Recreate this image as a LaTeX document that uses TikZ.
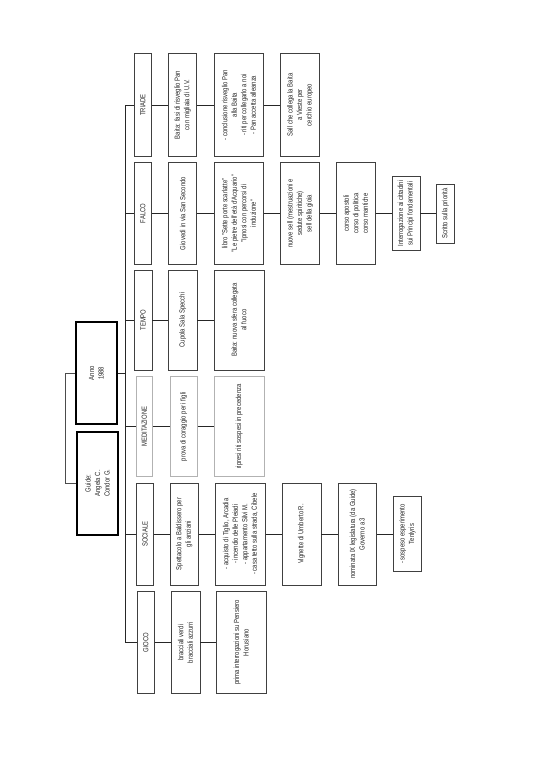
\documentclass[tikz,border=0pt]{standalone}
\usepackage{fontspec}
\setmainfont[FakeStretch=0.8]{Liberation Sans}
\begin{document}
\begin{tikzpicture}[x=1pt,y=-1pt,
  box/.style={draw=black!75, line width=0.7pt, rotate=90, align=center, inner sep=1pt,
    font=\fontsize{7.4}{9.5}\selectfont, text=black!85},
  lightbox/.style={box, draw=black!30},
  mainbox/.style={box, draw=black, line width=2pt},
  link/.style={draw=black!85, line width=0.9pt},
  bracket/.style={draw=black!70, line width=0.6pt}]
\useasboundingbox[fill=white] (0,0) rectangle (535,770);

% central boxes
\node[mainbox, minimum width=102pt, minimum height=41.3pt] (anno) at (96.3,373.3) {Anno\\1988};
\node[mainbox, minimum width=103.3pt, minimum height=41.6pt] (guide) at (97.5,483.3) {Guide:\\Angela C.\\Condor G.};

% TRIADE row
\node[box, minimum width=102.7pt, minimum height=17.7pt] (triade) at (142.9,105) {TRIADE};
\node[box, minimum width=102.7pt, minimum height=28pt] (t1) at (182.7,105) {Baita: fasi di risveglio Pan\\con migliaia di U.V.};
\node[box, minimum width=102.7pt, minimum height=49.7pt] (t2) at (238.9,105) {- conclusione risveglio Pan\\alla Baita\\- riti per collegarlo a noi\\- Pan accetta alleanza};
\node[box, minimum width=102.7pt, minimum height=39pt] (t3) at (300.2,105) {Sall che collega la Baita\\a Vieste per\\cerchio europeo};

% FALCO row
\node[box, minimum width=101.6pt, minimum height=17.7pt] (falco) at (142.9,213.5) {FALCO};
\node[box, minimum width=101.6pt, minimum height=28pt] (f1) at (182.7,213.5) {Giovedì in via San Secondo};
\node[box, minimum width=101.6pt, minimum height=49.7pt] (f2) at (238.9,213.5) {libro "Sette porte scarlatte"\\"Le pietre dell'età d'Acquario"\\"Ipnosi con percorsi di\\induzione"};
\node[box, minimum width=101.6pt, minimum height=39pt] (f3) at (300.2,213.5) {nuove sell (mestruazioni e\\sedute spiritiche)\\sell della gioia};
\node[box, minimum width=101.6pt, minimum height=39pt] (f4) at (355.8,213.5) {corso apostoli\\corso di politica\\corso mantiche};
\node[box, minimum width=74.3pt, minimum height=28pt] (f5) at (406,213.5) {Interrogazione ai cittadini\\sui Principi fondamentali};
\node[box, minimum width=59pt, minimum height=17.6pt] (f6) at (445.5,213.5) {Scritto sulla priorità};

% TEMPO row
\node[box, minimum width=100pt, minimum height=18pt] (tempo) at (143,320) {TEMPO};
\node[box, minimum width=100pt, minimum height=28.3pt] (te1) at (182.8,320) {Cupola Sala Specchi};
\node[box, minimum width=100pt, minimum height=50pt] (te2) at (239,320) {Baita: nuova sfera collegata\\al fuoco};

% MEDITAZIONE row
\node[lightbox, minimum width=100pt, minimum height=16.7pt] (med) at (144.3,426.7) {MEDITAZIONE};
\node[lightbox, minimum width=100pt, minimum height=27.3pt] (m1) at (183.6,426.7) {prova di coraggio per i figli};
\node[lightbox, minimum width=100pt, minimum height=50pt] (m2) at (239.3,426.7) {ripresi riti sospesi in precedenza};

% SOCIALE row
\node[box, minimum width=101.7pt, minimum height=16.6pt] (soc) at (145,534) {SOCIALE};
\node[box, minimum width=101.7pt, minimum height=28.3pt] (s1) at (184.2,534) {Spettacolo a Baldissero per\\gli anziani};
\node[box, minimum width=101.7pt, minimum height=50pt] (s2) at (240.3,534) {- acquisto di Tiglio, Arcadia\\- incendio delle Pleiadi\\- appartamento Silvi M.\\- casa tetto sulla strada, Cibele};
\node[box, minimum width=101.7pt, minimum height=39pt] (s3) at (301.5,534) {Vignette di Umberto R.};
\node[box, minimum width=101.7pt, minimum height=38.7pt] (s4) at (357.3,534) {nominata IX legislatura (da Guide)\\Governo a 3};
\node[box, minimum width=75.3pt, minimum height=28.4pt] (s5) at (407.5,534) {- sospeso esperimento\\Tenlyris};

% GIOCO row
\node[box, minimum width=101.6pt, minimum height=17.7pt] (gioco) at (145.8,642.5) {GIOCO};
\node[box, minimum width=101.6pt, minimum height=29pt] (g1) at (185.5,642.5) {bracciali verdi\\bracciali azzurri};
\node[box, minimum width=101.6pt, minimum height=50.7pt] (g2) at (241.3,642.5) {prima interrogazioni su Pensiero\\Horusiano};

% trunk
\draw[link] (triade.north) -- ++(-8,0) coordinate (tt) |- (gioco.north);
\draw[link] (falco.north) -- (falco.north -| tt);
\draw[link] (tempo.north) -- (tempo.north -| tt);
\draw[link] (med.north) -- (med.north -| tt);
\draw[link] (soc.north) -- (soc.north -| tt);
\draw[link] (anno.south) -- (anno.south -| tt);
\draw[bracket] (anno.north) -- ++(-9,0) |- (guide.north);

% row links
\draw[link] (triade.south) -- (t1.north);
\draw[link] (t1.south) -- (t2.north);
\draw[link] (t2.south) -- (t3.north);
\draw[link] (falco.south) -- (f1.north);
\draw[link] (f1.south) -- (f2.north);
\draw[link] (f2.south) -- (f3.north);
\draw[link] (f3.south) -- (f4.north);
\draw[link] (f4.south) -- (f5.north);
\draw[link] (f5.south) -- (f6.north);
\draw[link] (tempo.south) -- (te1.north);
\draw[link] (te1.south) -- (te2.north);
\draw[link] (med.south) -- (m1.north);
\draw[link] (m1.south) -- (m2.north);
\draw[link] (soc.south) -- (s1.north);
\draw[link] (s1.south) -- (s2.north);
\draw[link] (s2.south) -- (s3.north);
\draw[link] (s3.south) -- (s4.north);
\draw[link] (s4.south) -- (s5.north);
\draw[link] (gioco.south) -- (g1.north);
\draw[link] (g1.south) -- (g2.north);
\end{tikzpicture}
\end{document}
